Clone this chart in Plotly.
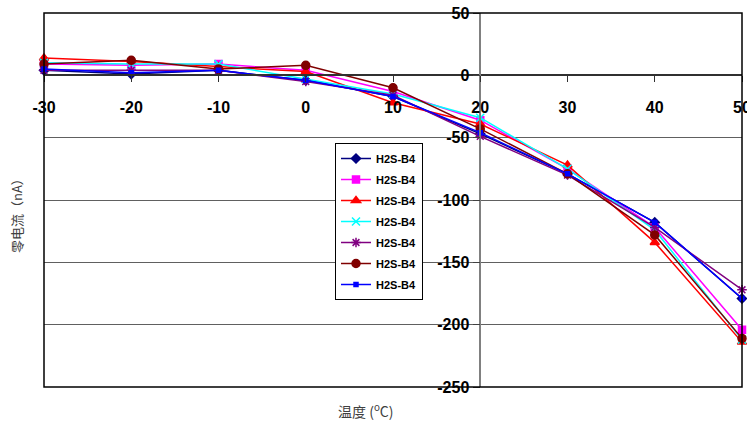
import plotly.graph_objects as go

temps = [-30, -20, -10, 0, 10, 20, 30, 40, 50]
series_names = ["H2S-B4"] * 7
s_navy = [4, 1, 4, -4, -17, -47, -79, -118, -179]
s_magenta = [9, 8, 9, 4, -13, -36, -75, -122, -204]
s_red = [14, 11, 7, 3, -22, -39, -72, -134, -214]
s_cyan = [10, 9, 9, -3, -15, -34, -75, -124, -212]
s_purple = [4, 4, 4, -5, -16, -49, -80, -122, -172]
s_darkred = [9, 12, 5, 8, -10, -43, -79, -128, -211]
s_blue = [5, 2, 4, -4, -17, -46, -79, -118, -179]

y_ticks = [50, 0, -50, -100, -150, -200, -250]
y_ticklabels = ["50", "0", "-50", "-100", "-150", "-200", "-250"]
x_ticks = [-30, -20, -10, 0, 10, 20, 30, 40, 50]
x_ticklabels = ["-30", "-20", "-10", "0", "10", "20", "30", "40", "50"]

styles = [
    (s_navy, "#000080", "diamond", 7),
    (s_magenta, "#FF00FF", "square", 7),
    (s_red, "#FF0000", "triangle-up", 8),
    (s_cyan, "#00FFFF", "x-thin-open", 8),
    (s_purple, "#800080", "asterisk-open", 8),
    (s_darkred, "#800000", "circle", 8),
    (s_blue, "#0000FF", "square", 4),
]

fig = go.Figure()
for i, (vals, col, sym, size) in enumerate(styles):
    fig.add_trace(go.Scatter(
        x=temps, y=vals, name=series_names[i], mode="lines+markers",
        line=dict(color=col, width=1.5),
        marker=dict(symbol=sym, size=size, color=col, line=dict(color=col, width=1.5)),
        legendgroup="g%d" % i, cliponaxis=False,
    ))

xmin, xmax = -30, 50
ymin, ymax = -250, 50

# plot area on screen: x 44..742, y 13..387 (page body margin removed below)
W, H = 747, 423
L, T = 44, 13
PW, PH = 698, 374

fig.update_layout(
    width=W, height=H,
    margin=dict(l=L, r=W - L - PW, t=T, b=H - T - PH, autoexpand=False),
    paper_bgcolor="white", plot_bgcolor="white",
    showlegend=True,
    legend=dict(
        x=(335 - L) / PW, y=(T + PH - 143) / PH, xanchor="left", yanchor="top",
        bordercolor="black", borderwidth=1, bgcolor="white",
        font=dict(family="Liberation Sans, Arial", size=11, color="black", weight="bold"),
        tracegroupgap=2, itemwidth=30,
    ),
    xaxis=dict(
        range=[xmin, xmax], tickvals=x_ticks, ticktext=x_ticklabels, showgrid=False, zeroline=False,
        anchor="free", position=(0 - ymin) / (ymax - ymin), automargin=False,
        showline=True, linecolor="#303030", linewidth=1.5,
        ticks="outside", ticklen=6, tickcolor="#303030", ticklabelstandoff=12,
        ticklabeloverflow="allow",
        tickfont=dict(family="Liberation Sans, Arial", size=16, color="black", weight="bold"),
    ),
    yaxis=dict(
        range=[ymin, ymax], tickvals=y_ticks, ticktext=y_ticklabels, showgrid=True,
        gridcolor="#606060", gridwidth=1, zeroline=False,
        anchor="free", position=(20 - xmin) / (xmax - xmin), automargin=False,
        showline=True, linecolor="#808080", linewidth=1.5,
        ticks="outside", ticklen=7, tickcolor="#404040",
        ticklabeloverflow="allow",
        tickfont=dict(family="Liberation Sans, Arial", size=16, color="black", weight="bold"),
    ),
    shapes=[dict(type="rect", xref="paper", yref="paper", x0=0, x1=1, y0=0, y1=1,
                 line=dict(color="black", width=1.5), layer="above")],
    annotations=[
        dict(text="零电流（nA）", xref="paper", yref="paper",
             x=(16 - L) / PW, y=(T + PH - 212) / PH, textangle=-90, showarrow=False,
             font=dict(family="Noto Sans CJK SC", size=13, color="#404040"),
             xanchor="center", yanchor="middle"),
        dict(text="温度 (<sup>o</sup>C)", xref="paper", yref="paper",
             x=(365 - L) / PW, y=(T + PH - 410) / PH, showarrow=False,
             font=dict(family="Noto Sans CJK SC", size=14, color="#404040"),
             xanchor="center", yanchor="middle"),
    ],
)

fig.write_html("out.html", config={"displayModeBar": False},
               post_script="document.body.style.margin='0';document.body.style.overflow='hidden';")
